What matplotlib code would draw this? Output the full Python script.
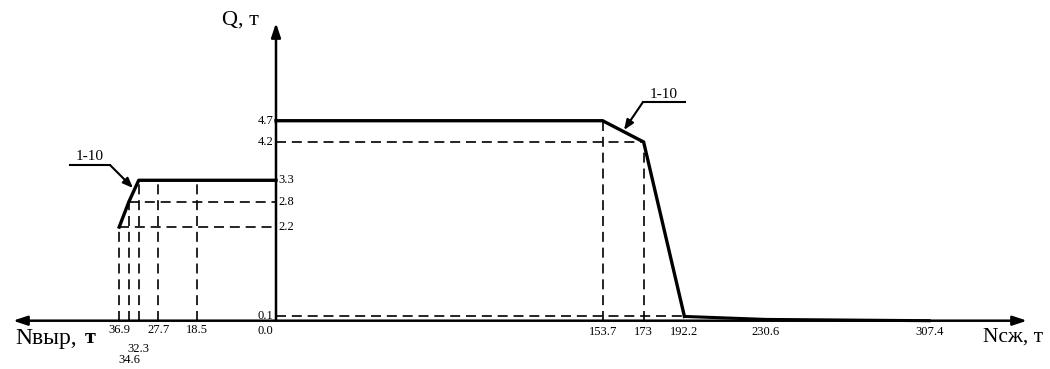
import matplotlib
matplotlib.use("Agg")
import matplotlib.pyplot as plt

plt.rcParams['font.family'] = ['Liberation Serif', 'DejaVu Serif']

# ---- data ----
# compression side (right), N in t, Q in t
n_comp = [0.0, 153.7, 173.0, 192.2, 230.6, 307.4]
q_comp = [4.7, 4.7, 4.2, 0.1, 0.03, 0.0]
# tension side (left), N in t, Q in t
n_tens = [36.9, 34.6, 32.3, 27.7, 18.5, 0.0]
q_tens = [2.2, 2.8, 3.3, 3.3, 3.3, 3.3]

comp_tick_labels = ["153.7", "173", "192.2", "230.6", "307.4"]
tens_tick_labels = ["36.9", "34.6", "32.3", "27.7", "18.5"]
q_labels_left = ["4.7", "4.2", "0.1"]
q_labels_right = ["3.3", "2.8", "2.2"]

LEFT_SCALE = 2.0  # tension side drawn at twice the scale

fig = plt.figure(figsize=(10.5, 3.69), dpi=100)
ax = fig.add_axes([0, 0, 1, 1])
ax.set_xlim(-276 / 2.125, (1050 - 276) / 2.125)
ax.set_ylim(-(369 - 320.7) / 42.55, 320.7 / 42.55)
ax.axis('off')

xt = [-LEFT_SCALE * n for n in n_tens]

# main curves
ax.plot(n_comp[:4], q_comp[:4], color='black', lw=2.4, solid_joinstyle='miter', zorder=4)
ax.plot(n_comp[3:], q_comp[3:], color='black', lw=2.2, zorder=4)
ax.plot([xt[0], xt[1], xt[2], 0.0], [q_tens[0], q_tens[1], q_tens[2], q_tens[-1]],
        color='black', lw=2.4, zorder=4)

dash = dict(color='black', lw=1.2, dashes=(6, 3.5), zorder=3)
# horizontal dashed lines
ax.plot([0, n_comp[2]], [q_comp[2]] * 2, **dash)
ax.plot([0, n_comp[3]], [q_comp[3]] * 2, **dash)
ax.plot([xt[0], 0], [q_tens[0]] * 2, **dash)
ax.plot([xt[1], 0], [q_tens[1]] * 2, **dash)
# vertical dashed lines
for x, q in zip(n_comp[1:3], q_comp[1:3]):
    ax.plot([x, x], [0, q], **dash)
for x, q in zip(xt[:5], q_tens[:5]):
    ax.plot([x, x], [0, q], **dash)

# axes with arrows
xl = (13 - 276) / 2.125
xr = (1027 - 276) / 2.125
ytop = (320.7 - 23) / 42.55
arr = dict(arrowstyle='-|>,head_length=0.6,head_width=0.2', lw=1.8, color='black',
           mutation_scale=14, shrinkA=0, shrinkB=0)
ax.annotate('', xy=(xr, 0), xytext=(0, 0), arrowprops=arr)
ax.annotate('', xy=(xl, 0), xytext=(0, 0), arrowprops=arr)
ax.annotate('', xy=(0, ytop), xytext=(0, 0), arrowprops=arr)

fs = 9
# Q labels
for lab in q_labels_left:
    ax.text(-1.2, float(lab), lab, ha='right', va='center', fontsize=fs)
for lab in q_labels_right:
    ax.text(1.2, float(lab), lab, ha='left', va='center', fontsize=fs)
ax.text(-5, -0.24, "0.0", ha='center', va='center', fontsize=fs)

# compression tick labels
for lab in comp_tick_labels:
    ax.text(float(lab), -0.26, lab, ha='center', va='center', fontsize=fs)
# tension tick labels (staggered)
offs = {"36.9": -0.23, "34.6": -0.92, "32.3": -0.66, "27.7": -0.23, "18.5": -0.23}
for lab in tens_tick_labels:
    ax.text(-LEFT_SCALE * float(lab), offs[lab], lab, ha='center', va='center', fontsize=fs)

# axis titles
ax.text((15 - 276) / 2.125, -0.41, "Nвыр,", ha='left', va='center', fontsize=17)
ax.text((85 - 276) / 2.125, -0.41, "т", ha='left', va='center', fontsize=16, fontweight='bold')
ax.text((983 - 276) / 2.125, -0.38, "Nсж, т", ha='left', va='center', fontsize=15.5)
ax.text((222 - 276) / 2.125, (320.7 - 20) / 42.55, "Q, т", ha='left', va='center', fontsize=16)

# leader annotations "1-10"
def px(x):
    return (x - 276) / 2.125
def py(y):
    return (320.7 - y) / 42.55

lead = dict(arrowstyle='-|>,head_length=0.5,head_width=0.2', lw=1.5, color='black',
            mutation_scale=12, shrinkA=0, shrinkB=0)
ax.plot([px(70), px(110)], [py(165), py(165)], color='black', lw=1.5)
ax.annotate('', xy=(px(133), py(188)), xytext=(px(110), py(165)), arrowprops=lead)
ax.text(px(90), py(157), "1-10", ha='center', va='center', fontsize=11)

ax.plot([px(643), px(685)], [py(102), py(102)], color='black', lw=1.5)
ax.annotate('', xy=(px(624), py(130)), xytext=(px(643), py(102)), arrowprops=lead)
ax.text(px(664), py(94), "1-10", ha='center', va='center', fontsize=11)

fig.savefig("out.png", dpi=100, facecolor='white')
